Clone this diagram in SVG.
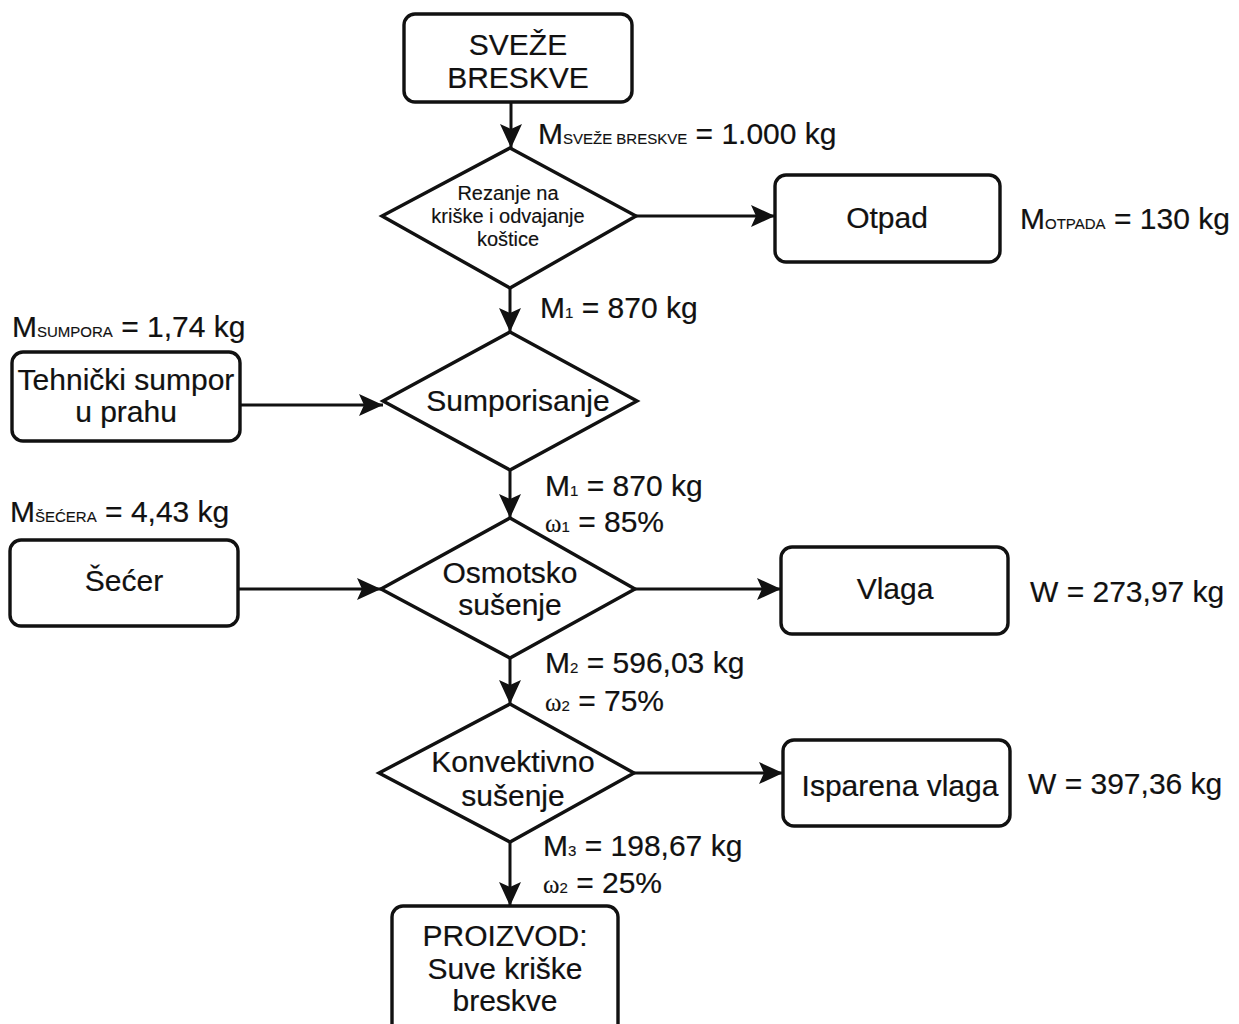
<svg xmlns="http://www.w3.org/2000/svg" width="1239" height="1024" viewBox="0 0 1239 1024">
  <defs>
    <marker id="arr" viewBox="0 0 24 22" refX="24" refY="11" markerWidth="24" markerHeight="22" markerUnits="userSpaceOnUse" orient="auto">
      <path d="M0,0 L24,11 L0,22 L5,11 Z" fill="#111"/>
    </marker>
    <style>
      .box { fill: #fff; stroke: #111; stroke-width: 3.4; }
      .dia { fill: #fff; stroke: #111; stroke-width: 3.4; stroke-linejoin: miter; }
      .edge { fill: none; stroke: #111; stroke-width: 3; marker-end: url(#arr); }
      text { font-family: "Liberation Sans", Arial, sans-serif; fill: #111; stroke: #111; stroke-width: 0.2; }
      .t { font-size: 30px; text-anchor: middle; }
      .s { font-size: 20px; text-anchor: middle; stroke-width: 0.15; }
      .lbl { font-size: 30px; }
      .sub { font-size: 15px; stroke-width: 0.15; }
      .om { font-family: "Liberation Serif", "Times New Roman", serif; font-size: 25px; stroke-width: 0.15; }
    </style>
  </defs>

  <rect width="1239" height="1024" fill="#fff"/>

  <!-- connectors -->
  <g id="connectors">
    <line class="edge" x1="511" y1="102" x2="511" y2="148"/>
    <line class="edge" x1="636" y1="216" x2="775" y2="216"/>
    <line class="edge" x1="510" y1="288" x2="510" y2="332"/>
    <line class="edge" x1="240" y1="405" x2="383" y2="405"/>
    <line class="edge" x1="510" y1="470" x2="510" y2="518"/>
    <line class="edge" x1="238" y1="589" x2="381" y2="589"/>
    <line class="edge" x1="635" y1="589" x2="781" y2="589"/>
    <line class="edge" x1="510" y1="658" x2="510" y2="704"/>
    <line class="edge" x1="634" y1="773" x2="783" y2="773"/>
    <line class="edge" x1="510" y1="842" x2="510" y2="906"/>
  </g>

  <!-- raw material -->
  <g id="svezeBreskve">
    <rect class="box" x="404" y="14" width="228" height="88" rx="11"/>
    <text class="t" x="518" y="55">SVEŽE</text>
    <text class="t" x="518" y="88">BRESKVE</text>
  </g>

  <!-- slicing and pitting -->
  <g id="rezanje">
    <polygon class="dia" points="510,148 636,216 510,288 382,216"/>
    <text class="s" x="508" y="200">Rezanje na</text>
    <text class="s" x="508" y="223">kriške i odvajanje</text>
    <text class="s" x="508" y="246">koštice</text>
  </g>

  <g id="otpad">
    <rect class="box" x="775" y="175" width="225" height="87" rx="11"/>
    <text class="t" x="887" y="228">Otpad</text>
  </g>

  <g id="sumpor">
    <rect class="box" x="12" y="352" width="228" height="89" rx="11"/>
    <text class="t" x="126" y="390">Tehnički sumpor</text>
    <text class="t" x="126" y="422">u prahu</text>
  </g>

  <g id="sumporisanje">
    <polygon class="dia" points="510,332 637,401 510,470 383,401"/>
    <text class="t" x="518" y="411">Sumporisanje</text>
  </g>

  <g id="secer">
    <rect class="box" x="10" y="540" width="228" height="86" rx="11"/>
    <text class="t" x="124" y="591">Šećer</text>
  </g>

  <g id="osmotsko">
    <polygon class="dia" points="510,518 635,589 510,658 381,589"/>
    <text class="t" x="510" y="583">Osmotsko</text>
    <text class="t" x="510" y="615">sušenje</text>
  </g>

  <g id="vlaga">
    <rect class="box" x="781" y="547" width="227" height="87" rx="11"/>
    <text class="t" x="895" y="599">Vlaga</text>
  </g>

  <g id="konvektivno">
    <polygon class="dia" points="510,704 634,773 510,842 379,773"/>
    <text class="t" x="513" y="772">Konvektivno</text>
    <text class="t" x="513" y="806">sušenje</text>
  </g>

  <g id="isparenaVlaga">
    <rect class="box" x="783" y="740" width="227" height="86" rx="11"/>
    <text class="t" x="900" y="796">Isparena vlaga</text>
  </g>

  <g id="proizvod">
    <rect class="box" x="392" y="906" width="226" height="130" rx="11"/>
    <text class="t" x="505" y="946">PROIZVOD:</text>
    <text class="t" x="505" y="979">Suve kriške</text>
    <text class="t" x="505" y="1011">breskve</text>
  </g>

  <!-- mass balance labels -->
  <g id="labels">
    <text class="lbl" x="538" y="144">M<tspan class="sub">SVEŽE BRESKVE</tspan> = 1.000 kg</text>
    <text class="lbl" x="1020" y="229">M<tspan class="sub">OTPADA</tspan> = 130 kg</text>
    <text class="lbl" x="540" y="318">M<tspan class="sub">1</tspan> = 870 kg</text>
    <text class="lbl" x="12" y="337">M<tspan class="sub">SUMPORA</tspan> = 1,74 kg</text>
    <text class="lbl" x="545" y="496">M<tspan class="sub">1</tspan> = 870 kg</text>
    <text class="lbl" x="545" y="532"><tspan class="om">ω</tspan><tspan class="sub">1</tspan> = 85%</text>
    <text class="lbl" x="10" y="522">M<tspan class="sub">ŠEĆERA</tspan> = 4,43 kg</text>
    <text class="lbl" x="1030" y="602">W = 273,97 kg</text>
    <text class="lbl" x="545" y="673">M<tspan class="sub">2</tspan> = 596,03 kg</text>
    <text class="lbl" x="545" y="711"><tspan class="om">ω</tspan><tspan class="sub">2</tspan> = 75%</text>
    <text class="lbl" x="1028" y="794">W = 397,36 kg</text>
    <text class="lbl" x="543" y="856">M<tspan class="sub">3</tspan> = 198,67 kg</text>
    <text class="lbl" x="543" y="893"><tspan class="om">ω</tspan><tspan class="sub">2</tspan> = 25%</text>
  </g>
</svg>
